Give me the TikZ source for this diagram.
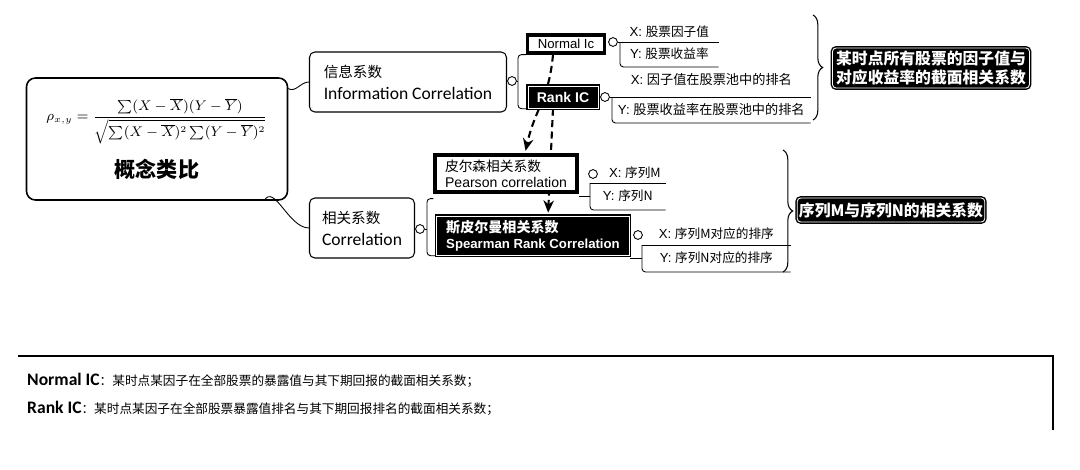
\documentclass[tikz,border=0pt]{standalone}
\usepackage{amsmath,amssymb}
\usepackage{fontspec}
\setmainfont{Carlito}
\newfontfamily\arial{Liberation Sans}
\newfontfamily\cjk{Noto Sans CJK SC}
\usetikzlibrary{arrows.meta,calc,backgrounds,decorations.pathreplacing}
\newcommand{\zh}[2]{{\fontsize{#1}{#1}\selectfont\cjk #2}}

\begin{document}
\begin{tikzpicture}[x=0.02cm,y=-0.02cm,
  topic/.style={draw,rounded corners=3pt,line width=0.6pt,fill=white,align=left,
    font=\fontsize{10}{12}\selectfont,inner sep=2pt},
  knob/.style={circle,draw,fill=white,inner sep=0pt,minimum size=5pt,line width=0.5pt},
  wbox/.style={draw,line width=1.8pt,fill=white,inner sep=1pt,align=left},
  bbox/.style={draw=black,fill=black,text=white,line width=0.8pt,double=white,
    double distance=0.5pt,inner sep=1pt,align=left},
  leaf/.style={anchor=south west,inner sep=0pt,font=\arial\fontsize{7.5}{9}\selectfont},
  link/.style={line width=0.5pt},
  dlink/.style={line width=1.2pt,dash pattern=on 4pt off 2.5pt,shorten >=1.5pt,
    -{Stealth[length=7pt,width=6pt]}},
  curly/.style={decorate,decoration={brace,amplitude=5.5pt},line width=0.6pt},
]
\useasboundingbox (0,0) rectangle (1080,470);

% main idea
\node[topic,align=center,line width=0.9pt,rounded corners=5pt,minimum width=5.22cm,minimum height=2.44cm] (main) at (157,139)
  {\fontsize{7.6}{9}\selectfont$\displaystyle\rho_{x,y}=\frac{\sum (X-\overline{X})(Y-\overline{Y})}{\sqrt{\sum (X-\overline{X})^2\sum (Y-\overline{Y})^2}}$\\[8pt]
   \zh{12}{\bfseries 概念类比}};

% two branches
\node[topic,minimum width=3.94cm,minimum height=1.2cm] (info) at (408,82) {\zh{8.3}{信息系数}\\[0.5pt] Information Correlation};
\node[topic,minimum width=2.1cm,minimum height=1.2cm] (corr) at (362,228) {\zh{8.3}{相关系数}\\[0.5pt] Correlation};
\draw[link] (main.21) to[out=-30,in=180] (info.west);
\draw[link] (main.-30) to[out=60,in=180] (corr.west);

% information correlation
\node[wbox,minimum width=1.54cm,minimum height=0.36cm,font=\arial\fontsize{7.5}{9}\selectfont] (normal) at (566,44) {Normal Ic};
\node[bbox,minimum width=1.4cm,minimum height=0.44cm,font=\arial\bfseries\fontsize{8}{9}\selectfont] (rank) at (563,97) {Rank IC};
\node[knob] (ik) at (512,81) {};
\coordinate (ib) at (518,81);
\draw[link] (ik) -- (ib);
\draw[link,rounded corners=2pt] (normal.south west) -| (ib) |- (rank.south west);

\node[knob] (nk) at (613,42) {};
\node[leaf,minimum width=1.96cm,minimum height=0.4cm] (nx) at (620,42) {X:~\zh{7.2}{股票因子值}};
\node[leaf,minimum width=1.96cm,minimum height=0.5cm] (ny) at (620,67) {Y:~\zh{7.2}{股票收益率}};
\draw[link] (nk) -- (nx.south east);
\draw[link,rounded corners=2pt] (nx.south west) |- (ny.south east);

\node[knob] (rk) at (605,97) {};
\node[leaf,minimum width=3.96cm,minimum height=0.7cm] (rx) at (612,97) {X:~\zh{7.5}{因子值在股票池中的排名}};
\node[leaf,minimum width=3.96cm,minimum height=0.52cm] (ry) at (612,123) {Y:~\zh{7.5}{股票收益率在股票池中的排名}};
\draw[link] (rk) -- (rx.south east);
\draw[link,rounded corners=2pt] (rx.south west) |- (ry.south east);

\coordinate (b1t) at (813,15);
\coordinate (b1b) at (813,120);
\draw[curly] (b1t) -- (b1b);
\node[bbox,rounded corners=2pt,align=center,minimum width=3.94cm,minimum height=0.8cm,
  font=\cjk\bfseries\fontsize{9}{10.5}\selectfont] (icdef) at (931,68) {某时点所有股票的因子值与\\对应收益率的截面相关系数};

% correlation
\node[wbox,minimum width=2.84cm,minimum height=0.74cm,font=\arial\fontsize{8}{9}\selectfont] (pearson) at (506,173.5)
  {\zh{7.8}{皮尔森相关系数}\\ Pearson correlation};
\node[bbox,minimum width=3.86cm,minimum height=0.78cm,font=\arial\bfseries\fontsize{7.5}{9}\selectfont] (spearman) at (533,235.5)
  {\zh{8}{斯皮尔曼相关系数}\\ Spearman Rank Correlation};
\node[knob] (ck) at (420,229) {};
\coordinate (cb) at (427,229);
\draw[link] (ck) -- (cb);
\draw[link,rounded corners=2pt] (pearson.south west) ++(0,5) -| (cb) |- (spearman.south west);

\node[knob] (pk) at (593,174) {};
\node[leaf,minimum width=1.5cm,minimum height=0.4cm] (px) at (590,183) {\hspace{8pt}X:~\zh{7.2}{序列M}};
\node[leaf,minimum width=1.5cm,minimum height=0.54cm] (py) at (590,210) {Y:~\zh{7.2}{序列N}};
\draw[link] (px.south west) -- (px.south east);
\draw[link,rounded corners=2pt] (px.south west) |- (py.south east);
\draw[link] (pearson.east |- py.west) -- (py.west);

\node[knob] (sk) at (638,235) {};
\node[leaf,minimum width=2.96cm,minimum height=0.45cm] (sx) at (642,245) {X:~\zh{7.2}{序列M对应的排序}};
\node[leaf,minimum width=2.96cm,minimum height=0.54cm] (sy) at (642,272) {Y:~\zh{7.2}{序列N对应的排序}};
\draw[link] (sx.south west) -- (sx.south east);
\draw[link,rounded corners=2pt] (sx.south west) |- (sy.south east);
\draw[link] (spearman.east |- sy.west) -- (sy.west);

\coordinate (b2t) at (783,150);
\coordinate (b2b) at (783,272);
\draw[curly] (b2t) -- (b2b);
\node[bbox,rounded corners=2pt,minimum width=3.66cm,minimum height=0.48cm,
  font=\cjk\bfseries\fontsize{9}{10}\selectfont] (corrdef) at (891,210) {序列M与序列N的相关系数};

% dashed links behind the boxes
\begin{scope}[on background layer]
\draw[dlink] ($(normal.south)+(-13,0)$) .. controls +(-4,45) and +(10,-45) .. ($(pearson.north)+(19,0)$);
\draw[dlink] ($(rank.south)+(-10,0)$) -- ($(spearman.north)+(15,0)$);
\end{scope}

% notes at the bottom
\coordinate (pnw) at (18,356);
\coordinate (pne) at (1053,356);
\coordinate (pse) at (1053,430);
\draw[line width=0.7pt] (pnw) -- (pne) -- (pse);
\node[anchor=west,font=\bfseries\fontsize{10}{12}\selectfont] (note1) at (21,380)
  {Normal IC\zh{7.2}{\mdseries ：某时点某因子在全部股票的暴露值与其下期回报的截面相关系数；}};
\node[anchor=west,font=\bfseries\fontsize{10}{12}\selectfont] (note2) at (21,408)
  {Rank IC\zh{7.2}{\mdseries ：某时点某因子在全部股票暴露值排名与其下期回报排名的截面相关系数；}};
\end{tikzpicture}
\end{document}
